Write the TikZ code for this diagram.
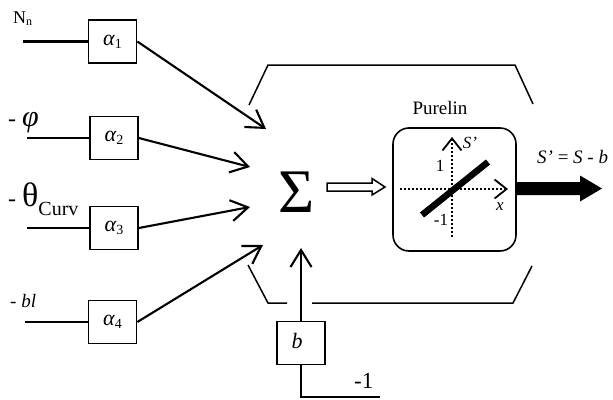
\documentclass[tikz,border=0pt]{standalone}
\usepackage{fontspec}
\setmainfont{Liberation Serif}
\usetikzlibrary{arrows.meta}
\newcommand\lowsub[3][13]{\raisebox{#2}{\fontsize{#1}{#1}\selectfont #3}}
\newcommand\fsz[1]{\fontsize{#1}{#1}\selectfont}
\begin{document}
\begin{tikzpicture}[x=1pt,y=-1pt,
  wbox/.style={draw, line width=1.7pt, minimum width=48pt, minimum height=43pt, inner sep=0pt, font=\fsz{22}},
  conn/.style={line width=2.1pt},
  arr/.style={conn, -{Straight Barb[length=17pt,width=21pt]}},
  brk/.style={line width=1.5pt},
  lbl/.style={inner sep=0pt, anchor=base west},
  axis/.style={line width=1.8pt, dash pattern=on 1.6pt off 2.4pt, -{Straight Barb[length=12pt,width=19pt]}}]
\useasboundingbox (0,0) rectangle (613,399);

% input boxes
\node[wbox] (a1) at (112.5,41.5) {\textit{α}\lowsub[14]{-3pt}{1}};
\node[wbox] (a2) at (114,138) {\textit{α}\lowsub[14]{-3pt}{2}};
\node[wbox] (a3) at (114,228) {\textit{α}\lowsub[14]{-3pt}{3}};
\node[wbox] (a4) at (112.5,322) {\textit{α}\lowsub[14]{-3pt}{4}};
\node[wbox] (bb) at (301,343) {\raisebox{4pt}{\hspace*{-8pt}\textit{b}}};

% input labels
\node[lbl, font=\fsz{18}] (ln) at (13,23) {N\lowsub[12]{-2pt}{n}};
\node[lbl, font=\fsz{24}] (lp) at (8,126) {- {\fsz{30}\textit{φ}}};
\node[lbl, font=\fsz{24}] (lt) at (8,206) {- {\fsz{34}θ}\lowsub[20]{-9pt}{Curv}};
\node[lbl, font=\fsz{19}] (lb) at (10,307) {- \textit{bl}};
\node[lbl, font=\fsz{23}] (lm) at (354,388) {-1};

% input lines
\coordinate (i1) at (23,41.5);
\coordinate (i2) at (27,138);
\coordinate (i3) at (27,228);
\coordinate (i4) at (25,322);
\draw[conn] (i1) -- (a1.west);
\draw[conn] (i2) -- (a2.west);
\draw[conn] (i3) -- (a3.west);
\draw[conn] (i4) -- (a4.west);

% sum
\node[inner sep=0pt] (sum) at (297,192) {\fsz{62}Σ};
\coordinate (t1) at (266,129);
\coordinate (t2) at (250,167);
\coordinate (t3) at (250,207);
\coordinate (t4) at (263,245);
\coordinate (tb) at (301,248);
\draw[arr] (a1.east) -- (t1);
\draw[arr] (a2.east) -- (t2);
\draw[arr] (a3.east) -- (t3);
\draw[arr] (a4.east) -- (t4);
\draw[arr] (bb.north) -- (tb);
\coordinate (m1) at (301,397);
\coordinate (m2) at (380,397);
\draw[conn] (bb.south) -- (m1) -- (m2);

% hollow arrow
\draw[line width=1.5pt, line join=miter] (327,183) -- (372,183) -- (372,178.5) -- (385,187) -- (372,195) -- (372,191) -- (327,191) -- cycle;

% purelin box
\node[draw, rounded corners=16pt, line width=1.6pt, minimum width=123pt, minimum height=123pt, inner sep=0pt] (pl) at (454.5,189.5) {};
\node[font=\fsz{19}, inner sep=0pt] (plab) at (440,108) {Purelin};
\draw[axis] (400,189) -- (508,189);
\draw[axis] (452,237) -- (452,137);
\draw[line width=6.5pt] (422,215) -- (488,162);
\node[font=\fsz{17}, inner sep=0pt] (one) at (440,166) {1};
\node[font=\fsz{17}, inner sep=0pt] (mone) at (441,220) {-1};
\node[font=\fsz{17}, inner sep=0pt] (sp) at (470,143) {\textit{S’}};
\node[font=\fsz{17}, inner sep=0pt] (xx) at (500,207) {\textit{x}};

% output arrow
\fill (516,182) -- (580,182) -- (580,175.5) -- (602,188.5) -- (580,201.5) -- (580,195) -- (516,195) -- cycle;
\node[lbl, font=\fsz{19}] (eq) at (537,163) {\textit{S’} = \textit{S} - \textit{b}};

% brackets
\draw[brk] (249,105) -- (268,65) -- (515,65) -- (533,104);
\draw[brk] (248,265) -- (268,303) -- (287,303);
\draw[brk] (312,303) -- (513,303) -- (532,266);
\end{tikzpicture}
\end{document}
